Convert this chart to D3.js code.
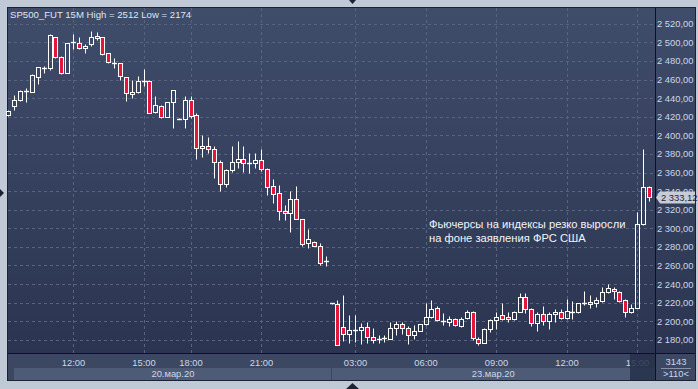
<!DOCTYPE html>
<html>
<head>
<meta charset="utf-8">
<script src="https://cdn.jsdelivr.net/npm/d3@7"></script>
<style>
  body { margin: 0; background: #c0cad7; }
  svg { display: block; }
  text { font-family: "Liberation Sans", Arial, sans-serif; }
</style>
</head>
<body>
<div id="chart"></div>
<script>
(function () {

    // 15-minute candles, index 0 = first candle on screen
    const opens = [2422, 2431, 2438, 2447.5, 2447, 2463, 2472.5, 2472, 2505.5, 2484,
        2467.5, 2500, 2499, 2493.5, 2498, 2506.5, 2505.5, 2488, 2477.5, 2477.5,
        2462.5, 2444, 2447, 2458.5, 2458.5, 2425.5, 2432, 2420, 2435.5, 2417.8,
        2417.5, 2437.5, 2421.5, 2386, 2388, 2385, 2371, 2348, 2363, 2371,
        2375, 2370.5, 2370.5, 2373, 2363.5, 2345, 2337.5, 2319, 2316, 2331.5,
        2310.5, 2284.5, 2285.5, 2281.5, 2265, 2219.2, 2219, 2194, 2186.5, 2190.5,
        2190.5, 2194, 2183, 2181.5, 2181.5, 2181.5, 2192.5, 2197, 2192.5, 2185,
        2190, 2197, 2204.5, 2214, 2200, 2199, 2202.5, 2195, 2203.5, 2210.5,
        2181, 2176.5, 2191.5, 2201.5, 2206.5, 2204.5, 2202, 2210.5, 2226.5, 2213,
        2198, 2208, 2200.5, 2207.5, 2209.5, 2204, 2210.5, 2209.5, 2219.5, 2219.5,
        2220, 2222, 2231, 2234.5, 2231, 2222.5, 2210.5, 2214.5, 2304.5, 2344]
    const highs = [2427, 2443, 2449, 2451, 2465.5, 2473.5, 2475, 2509, 2506, 2485,
        2499.5, 2508.5, 2505.5, 2498, 2512, 2511, 2506, 2488.5, 2483, 2478,
        2462.5, 2459.5, 2463.5, 2471.5, 2459, 2442, 2433, 2435.5, 2449, 2418.5,
        2442, 2442, 2424.5, 2400, 2398.5, 2388.5, 2373.5, 2363.5, 2388.5, 2393.5,
        2388.5, 2380.5, 2380.5, 2385, 2365, 2353, 2347, 2325, 2340, 2345.5,
        2310.5, 2299, 2286, 2284.5, 2270, 2219.4, 2223, 2228, 2207, 2207,
        2198, 2199, 2192.5, 2185.5, 2185.5, 2199, 2200, 2199, 2194.5, 2196.5,
        2197.5, 2219.5, 2222.5, 2216.5, 2209, 2206, 2203.5, 2204.5, 2212.5, 2211.5,
        2183.5, 2192.5, 2203, 2209.5, 2219.5, 2210.5, 2211, 2230, 2230, 2214,
        2210.5, 2216.5, 2209.5, 2213, 2213, 2223.5, 2222, 2220, 2232.5, 2228.5,
        2226, 2236.5, 2240, 2236.5, 2232.5, 2223.5, 2218.5, 2318, 2385.5, 2345.5]
    const lows = [2421, 2427, 2437, 2436, 2446.5, 2455.5, 2467.5, 2470, 2483, 2465.5,
        2467, 2493, 2492.5, 2489, 2496, 2503, 2486.5, 2478, 2472, 2460,
        2437, 2440.5, 2445, 2453.5, 2424, 2424.5, 2419, 2420, 2407.5, 2417,
        2407.5, 2419, 2374, 2377, 2380.5, 2354, 2340, 2344.5, 2360.5, 2365,
        2360.5, 2360, 2364.5, 2362, 2335.5, 2327.5, 2308.5, 2308.5, 2296, 2309.5,
        2280.5, 2279, 2281, 2261, 2259.5, 2218.6, 2174, 2178.5, 2176.5, 2178,
        2176, 2176.5, 2176.5, 2176.5, 2178, 2181, 2185.5, 2186.5, 2176, 2181,
        2189.5, 2196.5, 2203.5, 2200, 2196.5, 2194.5, 2194.5, 2194, 2202.5, 2180,
        2175, 2176.5, 2189, 2191.5, 2201.5, 2199.5, 2201.5, 2209.5, 2208.5, 2195,
        2190, 2196, 2192, 2199.5, 2203, 2203, 2202.5, 2209, 2217.5, 2214.5,
        2215, 2221, 2230, 2223.5, 2221, 2204.5, 2208.5, 2214, 2304, 2329.5]
    const closes = [2426, 2437.5, 2447.5, 2447.5, 2465, 2473, 2472.5, 2508, 2484.5, 2466.5,
        2499, 2500, 2493.5, 2495.5, 2506, 2504.5, 2487, 2478.5, 2477.5, 2463.5,
        2445, 2447, 2458.5, 2458.5, 2424.5, 2432.5, 2420, 2435.5, 2448.5, 2417.2,
        2437.5, 2420.5, 2386, 2388, 2385, 2371, 2348, 2363, 2371, 2375,
        2370, 2370.5, 2373.5, 2363.5, 2344.5, 2336.5, 2318.5, 2316, 2331.5, 2310.5,
        2283.5, 2288, 2281.5, 2263, 2265, 2218.8, 2175, 2186.5, 2190.5, 2190.5,
        2194, 2183, 2180, 2181.5, 2182, 2192.5, 2197, 2192.5, 2185, 2190,
        2197, 2204.5, 2213, 2201.5, 2200, 2202.5, 2195.5, 2202.5, 2210, 2182,
        2176.5, 2191.5, 2201.5, 2205, 2203, 2202, 2210.5, 2226.5, 2213, 2198,
        2208, 2200.5, 2208, 2209.5, 2204, 2211, 2210.5, 2219.5, 2219.5, 2220.5,
        2222.5, 2231, 2235.5, 2232.5, 2222, 2210.5, 2214, 2304.5, 2344, 2333.12]

    const priceTicks = d3.range(2180, 2521, 20)
    const timeTickIndex = [11, 23, 31, 43, 59, 71, 83, 95, 107]
    const timeTickLabels = ["12:00", "15:00", "18:00", "21:00", "03:00", "06:00", "09:00", "12:00", "15:00"]
    const dayStartIndex = [1, 55]
    const dayLabels = ["20.мар.20", "23.мар.20"]

    const title = "SP500_FUT 15M High = 2512 Low = 2174"
    const note = ["Фьючерсы на индексы резко выросли", "на фоне заявления ФРС США"]
    const lastPrice = closes[closes.length - 1]

    const width = 698, height = 389
    const plotLeft = 8, plotRight = 655, plotTop = 8, plotBottom = 353, frameRight = 695, frameBottom = 380
    const step = 5.875

    const fmt = d3.formatLocale({ decimal: ",", thousands: " ", grouping: [3], currency: ["", ""] }).format(",.2f")

    const xScale = d3.scaleLinear()
        .domain([0, closes.length - 1])
        .range([8.4, 8.4 + step * (closes.length - 1)])

    const yScale = d3.scaleLinear()
        .domain([2180, 2520])
        .range([339.9, 23.7])

    const px = v => Math.round(v) + 0.5

    const svg = d3.select("#chart")
        .append("svg")
        .attr("width", width)
        .attr("height", height)

    const defs = svg.append("defs")
    const grad = defs.append("linearGradient")
        .attr("id", "bg")
        .attr("gradientUnits", "userSpaceOnUse")
        .attr("x1", 0).attr("y1", plotTop).attr("x2", 0).attr("y2", plotBottom)
    grad.append("stop").attr("offset", 0).attr("stop-color", "#3f4c6a")
    grad.append("stop").attr("offset", 1).attr("stop-color", "#2b3551")

    // frame
    svg.append("rect").attr("width", width).attr("height", height).attr("fill", "#c0cad7")
    svg.append("rect")
        .attr("x", 7).attr("y", 7).attr("width", frameRight - 7 + 1).attr("height", frameBottom - 7 + 1)
        .attr("fill", "#1c2232")
    svg.append("rect")
        .attr("x", plotLeft).attr("y", plotTop)
        .attr("width", frameRight - plotLeft).attr("height", plotBottom - plotTop)
        .attr("fill", "url(#bg)")
    svg.append("rect")
        .attr("x", plotLeft).attr("y", plotBottom + 1)
        .attr("width", frameRight - plotLeft).attr("height", frameBottom - plotBottom - 1)
        .attr("fill", "#3c4862")

    svg.append("path").attr("d", "M349,0L356,0L352.5,4Z").attr("fill", "#1c2232")
    svg.append("path").attr("d", "M346,389L359,389L352.5,383Z").attr("fill", "#1c2232")
    svg.append("path").attr("d", "M0,189L0,197L4,193Z").attr("fill", "#1c2232")

    // grid
    const grid = svg.append("g")
        .attr("stroke", "#56647f")
        .attr("stroke-dasharray", "3,3")
    grid.selectAll("line.h")
        .data(priceTicks)
        .enter()
        .append("line")
        .attr("x1", plotLeft).attr("x2", plotRight)
        .attr("y1", d => px(yScale(d))).attr("y2", d => px(yScale(d)))
    grid.selectAll("line.v")
        .data(timeTickIndex)
        .enter()
        .append("line")
        .attr("y1", plotTop).attr("y2", plotBottom)
        .attr("x1", d => px(xScale(d))).attr("x2", d => px(xScale(d)))

    // separators
    svg.append("line")
        .attr("x1", plotLeft).attr("x2", frameRight)
        .attr("y1", plotBottom + 0.5).attr("y2", plotBottom + 0.5)
        .attr("stroke", "#0e121a")
    svg.append("line")
        .attr("x1", plotRight + 0.5).attr("x2", plotRight + 0.5)
        .attr("y1", plotTop).attr("y2", frameBottom)
        .attr("stroke", "#0e121a")

    // title
    svg.append("text")
        .attr("x", 10).attr("y", 18.3)
        .attr("fill", "#dde6f2")
        .attr("font-size", "9.6px")
        .text(title)

    // candles
    const candles = svg.append("g")
        .selectAll("g")
        .data(d3.range(closes.length))
        .enter()
        .append("g")

    candles.each(function (i) {
        const g = d3.select(this)
        const xc = px(xScale(i))
        const o = opens[i], c = closes[i]
        let top = Math.round(yScale(Math.max(o, c))) + 0.5
        let bot = Math.round(yScale(Math.min(o, c))) + 0.5
        const hi = Math.round(yScale(highs[i])) + 0.5
        const lo = Math.round(yScale(lows[i])) + 0.5
        const doji = Math.abs(o - c) < 0.9
        if (doji) {
            g.append("line")
                .attr("x1", xc).attr("x2", xc).attr("y1", hi).attr("y2", lo)
                .attr("stroke", "#fff")
            g.append("line")
                .attr("x1", xc - 2.5).attr("x2", xc + 2.5).attr("y1", top).attr("y2", top)
                .attr("stroke", "#fff").attr("stroke-width", 1.4)
            return
        }
        if (bot - top < 2) bot = top + 2
        if (hi < top) g.append("line").attr("x1", xc).attr("x2", xc).attr("y1", hi).attr("y2", top).attr("stroke", "#fff")
        if (lo > bot) g.append("line").attr("x1", xc).attr("x2", xc).attr("y1", bot).attr("y2", lo).attr("stroke", "#fff")
        g.append("rect")
            .attr("x", xc - 2).attr("y", top)
            .attr("width", 4).attr("height", bot - top)
            .attr("fill", c > o ? "none" : "#e3163c")
            .attr("stroke", "#fff")
    })

    // price axis
    const yAxis = svg.append("g")
        .attr("transform", `translate(${plotRight},0)`)
        .call(d3.axisRight(yScale).tickValues(priceTicks).tickSize(0).tickPadding(2).tickFormat(fmt))
    yAxis.select(".domain").remove()
    yAxis.selectAll("text")
        .attr("fill", "#cad7ea")
        .attr("font-size", "9.4px")
        .attr("font-family", "Liberation Sans, Arial, sans-serif")

    // last price marker
    const ly = yScale(lastPrice)
    svg.append("path")
        .attr("d", `M656,${ly}L660,${ly - 6}L${frameRight},${ly - 6}L${frameRight},${ly + 6}L660,${ly + 6}Z`)
        .attr("fill", "#c7ccd6")
    svg.append("text")
        .attr("x", 661).attr("y", ly + 3.4)
        .attr("fill", "#1b2440")
        .attr("font-size", "9.4px")
        .text(fmt(lastPrice))

    // date bands
    const dayEnds = dayStartIndex.slice(1).map(i => xScale(i)).concat([plotRight])
    dayStartIndex.forEach((s, k) => {
        const x0 = k === 0 ? xScale(s) : xScale(s)
        const x1 = dayEnds[k]
        svg.append("rect")
            .attr("x", Math.round(x0)).attr("y", 368)
            .attr("width", Math.round(x1 - x0)).attr("height", 12)
            .attr("fill", "#4d5b76")
        svg.append("text")
            .attr("x", (x0 + x1) / 2).attr("y", 377.3)
            .attr("text-anchor", "middle")
            .attr("fill", "#cad7ea")
            .attr("font-size", "9.4px")
            .text(dayLabels[k])
    })

    // time labels
    svg.append("g")
        .selectAll("text")
        .data(timeTickIndex)
        .enter()
        .append("text")
        .attr("x", d => xScale(d) + 0.5)
        .attr("y", 366)
        .attr("text-anchor", "middle")
        .attr("fill", "#cad7ea")
        .attr("font-size", "9.4px")
        .text((d, k) => timeTickLabels[k])

    // current candle highlight in time axis
    svg.append("rect")
        .attr("x", 630).attr("y", plotBottom + 1)
        .attr("width", plotRight - 630).attr("height", frameBottom - plotBottom - 1)
        .attr("fill", "#26304a").attr("opacity", 0.85)

    // bottom right box
    svg.append("text")
        .attr("x", 676).attr("y", 365.3)
        .attr("text-anchor", "middle").attr("fill", "#cad7ea").attr("font-size", "9.4px")
        .text("3143")
    svg.append("line")
        .attr("x1", 661).attr("x2", 691).attr("y1", 368.5).attr("y2", 368.5)
        .attr("stroke", "#8592a8")
    svg.append("text")
        .attr("x", 676).attr("y", 377.3)
        .attr("text-anchor", "middle").attr("fill", "#cad7ea").attr("font-size", "9.4px")
        .text(">" + closes.length + "<")

    // note
    svg.append("g")
        .selectAll("text")
        .data(note)
        .enter()
        .append("text")
        .attr("x", 429)
        .attr("y", (d, k) => 228.3 + k * 13.7)
        .attr("fill", "#f2f5fa")
        .attr("font-size", "11.2px")
        .text(d => d)
})()
</script>
</body>
</html>
